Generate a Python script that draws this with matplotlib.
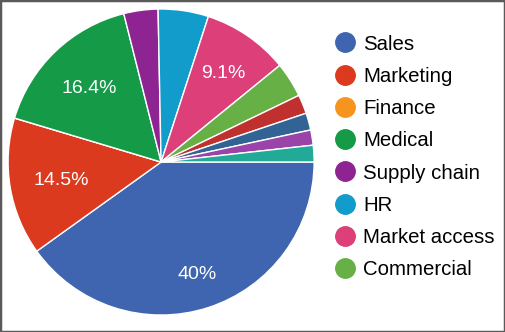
import numpy as np
import matplotlib
matplotlib.use("Agg")
import matplotlib.pyplot as plt
from matplotlib.lines import Line2D
from matplotlib.patches import Rectangle

plt.rcParams['font.family'] = ['Liberation Sans', 'DejaVu Sans']

departments = ['Sales', 'Marketing', 'Finance', 'Medical', 'Supply chain', 'HR',
               'Market access', 'Commercial', 'Other 1', 'Other 2', 'Other 3', 'Other 4']
shares = [40.0, 14.5, 0.0, 16.4, 3.6, 5.3, 9.1, 3.7, 2.0, 1.8, 1.6, 1.75]
slice_labels = ['40%', '14.5%', '', '16.4%', '', '', '9.1%', '', '', '', '', '']
colors = ['#3f65b0', '#dc3a1f', '#f7941d', '#159a48', '#8e2491', '#119ccb',
          '#dd3f78', '#67b045', '#c0302e', '#316395', '#9a44aa', '#22aa99']
legend_count = 8

label_radius = [0.76, 0.66, 0.7, 0.68, 0.7, 0.7, 0.72, 0.7, 0.7, 0.7, 0.7, 0.7]

fig = plt.figure(figsize=(5.05, 3.32), dpi=100)
ax = fig.add_axes([0.016, 0.051, 0.606, 0.922])

wedges, _ = ax.pie(shares, colors=colors, startangle=0, counterclock=False,
                   wedgeprops=dict(edgecolor='white', linewidth=1.0))
ax.set_xlim(-1.0, 1.0)
ax.set_ylim(-1.0, 1.0)
ax.set_aspect('equal')

for w, txt, r in zip(wedges, slice_labels, label_radius):
    if not txt:
        continue
    mid = np.deg2rad((w.theta1 + w.theta2) / 2)
    ax.text(r * np.cos(mid), r * np.sin(mid), txt, ha='center', va='center_baseline',
            color='white', fontsize=14)

handles = [Line2D([0], [0], marker='o', linestyle='none', markersize=14,
                  markerfacecolor=c, markeredgecolor=c)
           for c in colors[:legend_count]]
fig.legend(handles, departments[:legend_count], loc='upper left',
           bbox_to_anchor=(0.663, 0.896), frameon=False, fontsize=14.7,
           handlelength=1.0, handletextpad=0.4, labelspacing=0.65,
           borderpad=0, borderaxespad=0)

fig.patches.append(Rectangle((0, 0), 1, 1, transform=fig.transFigure, fill=False,
                             edgecolor='#5a5a5a', linewidth=2.5))

fig.savefig('out.png', dpi=100)
